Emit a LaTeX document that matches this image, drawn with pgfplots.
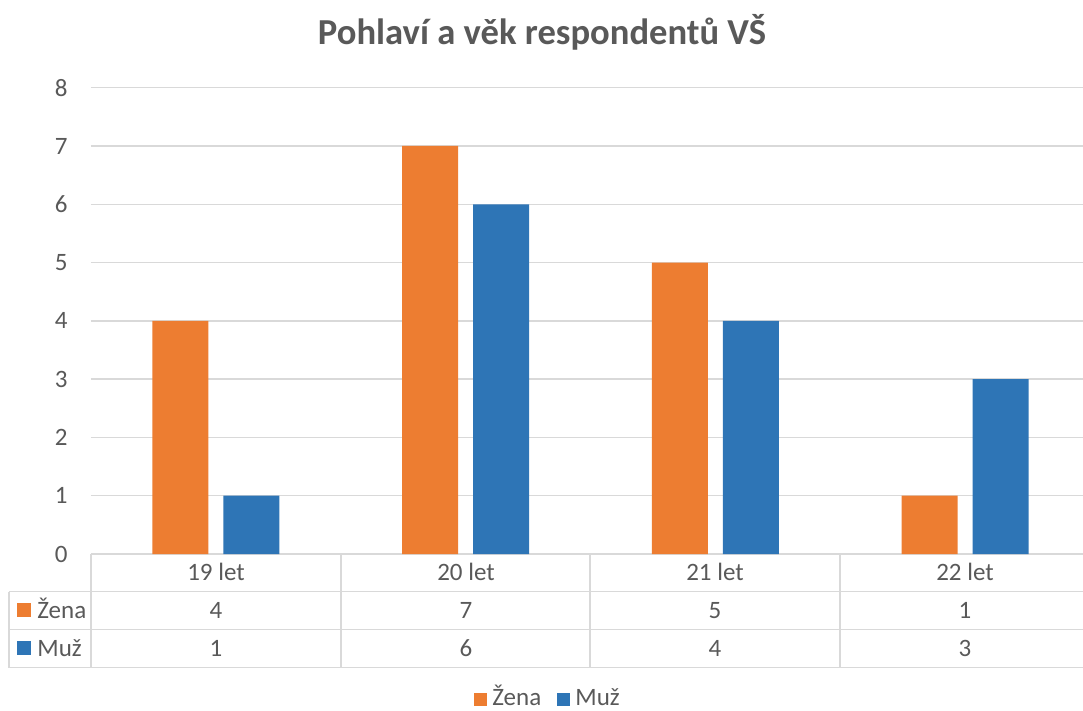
\documentclass[border=0pt]{standalone}
\usepackage{fontspec}
\setmainfont{Carlito}
\usepackage{pgfplots}
\pgfplotsset{compat=1.18}
\definecolor{zena}{HTML}{ED7D31}
\definecolor{muz}{HTML}{2E75B6}
\definecolor{txt}{HTML}{595959}
\definecolor{grd}{HTML}{D9D9D9}
\newcommand\tfont{\fontsize{12.5}{14}\selectfont}
\begin{document}
\begin{tikzpicture}
\path[use as bounding box] (0,0) rectangle (541.5pt,-355.5pt);
\begin{axis}[
  at={(45.5pt,-277pt)}, anchor=south west,
  scale only axis, width=499.5pt, height=233.15pt,
  xmin=-0.5, xmax=3.5, ymin=0, ymax=8,
  ybar, bar width=0.224,
  xtick=\empty,
  ytick={0,1,...,8},
  ymajorgrids, grid style={grd, line width=0.75pt},
  separate axis lines,
  axis x line*=bottom, axis y line*=left,
  x axis line style={grd, line width=0.75pt, -},
  y axis line style={draw=none},
  major tick length=0pt,
  /pgf/number format/assume math mode=true,
  yticklabel style={font=\tfont, text=txt, inner sep=0pt, xshift=-11.5pt},
]
\addplot[fill=zena, draw=none, bar shift=-0.142] coordinates {(0,4) (1,7) (2,5) (3,1)};
\addplot[fill=muz, draw=none, bar shift=0.142] coordinates {(0,1) (1,6) (2,4) (3,3)};
\end{axis}
\begin{scope}[x=0.5pt, y=-0.5pt]
  \node[anchor=base, font=\bfseries\fontsize{18.3}{20}\selectfont, text=txt] at (542,44.5) {Pohlaví a věk respondentů VŠ};
  \draw[grd, line width=0.75pt] (9,591.5) -- (1090,591.5) (9,629.5) -- (1090,629.5) (9,667.5) -- (1090,667.5);
  \draw[grd, line width=0.75pt] (9,591.5) -- (9,667.5);
  \foreach \x in {91,341,590,840,1090} \draw[grd, line width=0.75pt] (\x,554) -- (\x,667.5);
  \foreach \x/\l in {216/19 let,466/20 let,715/21 let,965/22 let}
    \node[anchor=base, font=\tfont, text=txt, inner sep=0pt] at (\x,580.5) {\l};
  \foreach \x/\a/\b in {216/4/1,466/7/6,715/5/4,965/1/3} {
    \node[anchor=base, font=\tfont, text=txt, inner sep=0pt] at (\x,618) {\a};
    \node[anchor=base, font=\tfont, text=txt, inner sep=0pt] at (\x,656) {\b};
  }
  \fill[zena] (17,603) rectangle (31,617);
  \fill[muz] (17,641) rectangle (31,655);
  \node[anchor=base west, font=\tfont, text=txt, inner sep=0pt] at (37,618) {Žena};
  \node[anchor=base west, font=\tfont, text=txt, inner sep=0pt] at (37,656) {Muž};
  % legend
  \fill[zena] (474,692.5) rectangle (487,705.5);
  \node[anchor=base west, font=\tfont, text=txt, inner sep=0pt] at (492,705) {Žena};
  \fill[muz] (557,692.5) rectangle (570,705.5);
  \node[anchor=base west, font=\tfont, text=txt, inner sep=0pt] at (575,705) {Muž};
\end{scope}
\end{tikzpicture}
\end{document}
